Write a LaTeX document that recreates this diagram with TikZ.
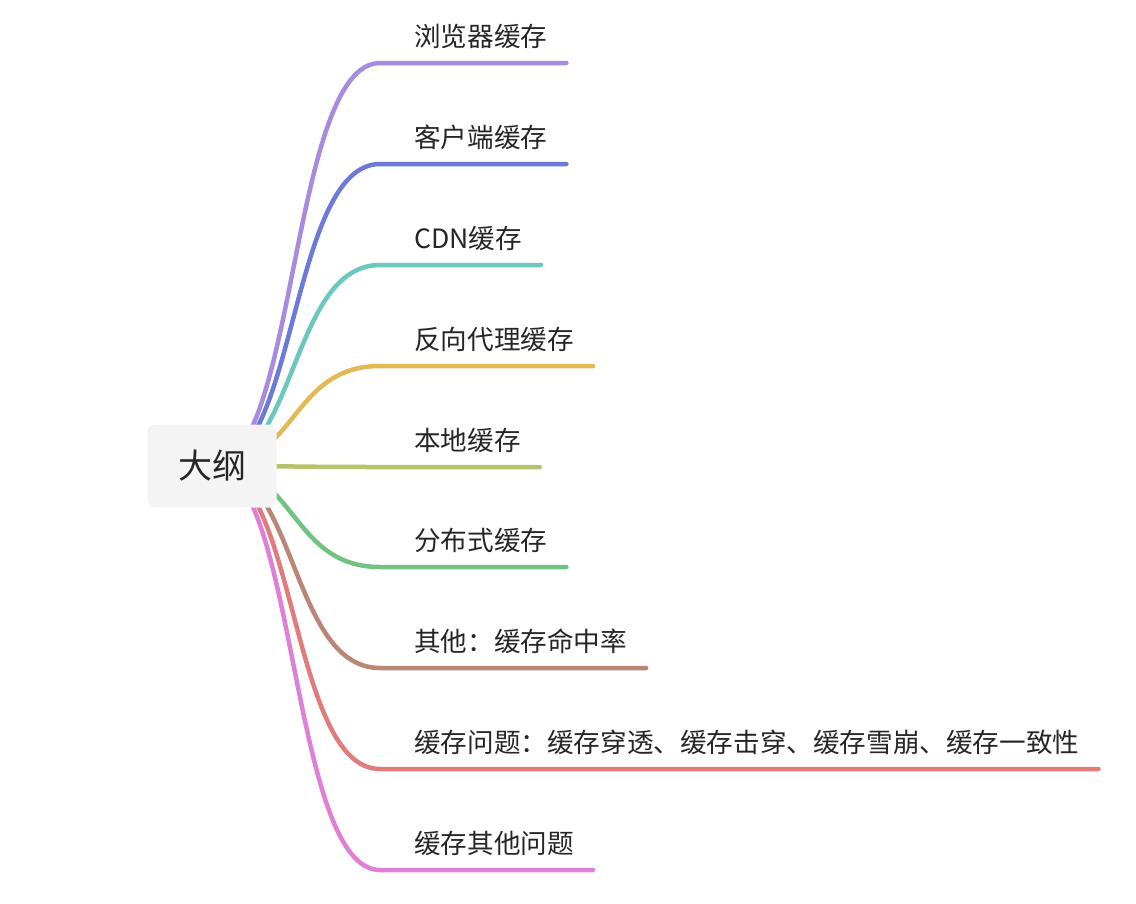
\documentclass[tikz,border=0pt]{standalone}
\usepackage{fontspec}
\setmainfont{Noto Sans CJK SC}
\usetikzlibrary{positioning, backgrounds}

\definecolor{textgray}{HTML}{262626}
\definecolor{rootgray}{HTML}{F4F4F5}
\definecolor{cPurple}{HTML}{A78BDE}
\definecolor{cBlue}{HTML}{6C7BD8}
\definecolor{cTeal}{HTML}{6CC7BC}
\definecolor{cGold}{HTML}{E2B954}
\definecolor{cOlive}{HTML}{B3C46C}
\definecolor{cGreen}{HTML}{72C283}
\definecolor{cBrown}{HTML}{B98677}
\definecolor{cRed}{HTML}{E07C7C}
\definecolor{cPink}{HTML}{DF80D6}

\tikzset{
    root/.style = {fill=rootgray, rounded corners=8pt, minimum width=129pt,
                   minimum height=83pt, text=textgray,
                   font=\fontsize{34}{40}\selectfont},
    leaf/.style = {anchor=base west, inner sep=0pt, text=textgray,
                   font=\fontsize{26.6}{30}\selectfont},
    branch/.style = {line width=4.5pt, line cap=round,
                     out=0, in=180, out distance=85pt, in distance=90pt}
}

\begin{document}
\begin{tikzpicture}[x=1pt, y=-1pt]
    \useasboundingbox (0,0) rectangle (1136,903);

    % Root
    \node[root] (root) at (212,466) {大纲};

    % Leaves
    \node[leaf] (browser) at (414,46) {浏览器缓存};
    \node[leaf] (client)  at (414,147) {客户端缓存};
    \node[leaf] (cdn)     at (414,248) {CDN缓存};
    \node[leaf] (proxy)   at (414,349) {反向代理缓存};
    \node[leaf] (local)   at (414,450) {本地缓存};
    \node[leaf] (dist)    at (414,550) {分布式缓存};
    \node[leaf] (hit)     at (414,651) {其他：缓存命中率};
    \node[leaf] (issue)   at (414,752) {缓存问题：缓存穿透、缓存击穿、缓存雪崩、缓存一致性};
    \node[leaf] (other)   at (414,853) {缓存其他问题};

    % Branches
    \begin{scope}[on background layer]
        \draw[branch, cPurple] (root.center) to ([shift={(-34pt,-17pt)}]browser.base west) -- ([shift={(19pt,-17pt)}]browser.base east);
        \draw[branch, cBlue] (root.center) to ([shift={(-34pt,-17pt)}]client.base west) -- ([shift={(19pt,-17pt)}]client.base east);
        \draw[branch, cTeal] (root.center) to ([shift={(-34pt,-17pt)}]cdn.base west) -- ([shift={(19pt,-17pt)}]cdn.base east);
        \draw[branch, cGold] (root.center) to ([shift={(-34pt,-17pt)}]proxy.base west) -- ([shift={(19pt,-17pt)}]proxy.base east);
        \draw[branch, cOlive] (root.center) to ([shift={(-34pt,-17pt)}]local.base west) -- ([shift={(19pt,-17pt)}]local.base east);
        \draw[branch, cGreen] (root.center) to ([shift={(-34pt,-17pt)}]dist.base west) -- ([shift={(19pt,-17pt)}]dist.base east);
        \draw[branch, cBrown] (root.center) to ([shift={(-34pt,-17pt)}]hit.base west) -- ([shift={(19pt,-17pt)}]hit.base east);
        \draw[branch, cRed] (root.center) to ([shift={(-34pt,-17pt)}]issue.base west) -- ([shift={(19pt,-17pt)}]issue.base east);
        \draw[branch, cPink] (root.center) to ([shift={(-34pt,-17pt)}]other.base west) -- ([shift={(19pt,-17pt)}]other.base east);
    \end{scope}
\end{tikzpicture}
\end{document}
